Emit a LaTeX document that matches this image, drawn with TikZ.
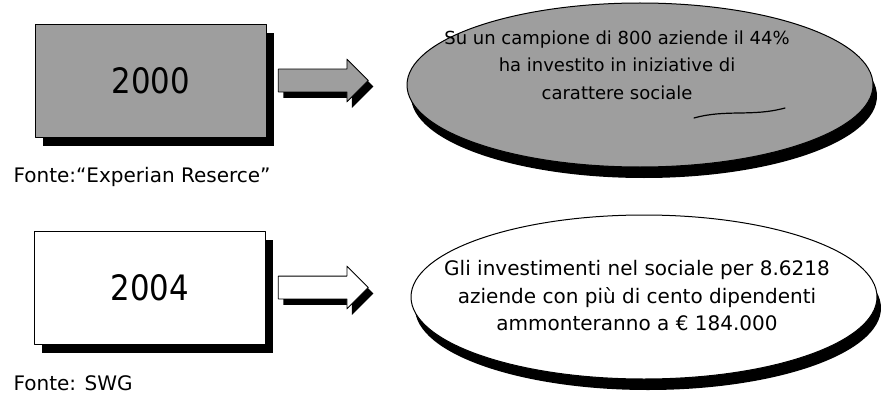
\documentclass[tikz,border=0pt]{standalone}
\usepackage{fontspec}
\setmainfont{DejaVu Sans}
\newfontfamily\yearfont{DejaVu Sans}[FakeStretch=0.88]
\usetikzlibrary{positioning}
\usetikzlibrary{shapes.geometric,shapes.arrows}
\usetikzlibrary{shadows}

\begin{document}
\begin{tikzpicture}[line cap=round,line join=round,x=1pt,y=-1pt,
  yearbox/.style={draw=black,line width=0.8pt,minimum width=231pt,minimum height=113pt,
    font=\yearfont\fontsize{35}{40}\selectfont,
    drop shadow={shadow xshift=7pt,shadow yshift=-9pt,opacity=1,fill=black}},
  blockarrow/.style={single arrow,draw=black,line width=0.8pt,minimum height=90pt,
    single arrow head extend=10pt,inner xsep=0pt,inner ysep=11pt,text height=0pt,text depth=0pt,
    drop shadow={shadow xshift=5pt,shadow yshift=-6pt,opacity=1,fill=black}},
  bubble/.style={ellipse,draw=black,line width=1pt,minimum width=466pt,minimum height=164pt,
    drop shadow={shadow xshift=4pt,shadow yshift=-11pt,opacity=1,fill=black}},
  bubbletext/.style={align=center,font=\fontsize{18}{27.5}\selectfont},
  source/.style={anchor=west,font=\fontsize{20}{24}\selectfont}]
        \useasboundingbox (0,0) rectangle (881,404);
        % 2000
        \node[yearbox,fill=black!38] (boxA) at (151,80.5) {2000};
        \node[source] (srcA) at (10,177) {Fonte:“Experian Reserce”};
        \node[blockarrow,fill=black!38,right=11pt of boxA] (arrA) {};
        \node[bubble,fill=black!38] (ellA) at (640,85) {};
        \node[bubbletext] (txtA) at (617,65) {Su un campione di 800 aziende il 44\%\\ha investito in iniziative di\\carattere sociale};
        \draw[line width=1.2pt] (694,118) .. controls (726,109) and (752,117) .. (785,108);
        % 2004
        \node[yearbox,fill=white] (boxB) at (150,287.5) {2004};
        \node[source] (srcB) at (10,383) {Fonte: SWG};
        \node[blockarrow,fill=white,right=12pt of boxB] (arrB) {};
        \node[bubble,fill=white] (ellB) at (644,297) {};
        \node[bubbletext,font=\fontsize{20}{27.5}\selectfont] (txtB) at (637,296) {Gli investimenti nel sociale per 8.6218\\aziende con più di cento dipendenti\\ammonteranno a € 184.000};
\end{tikzpicture}
\end{document}
